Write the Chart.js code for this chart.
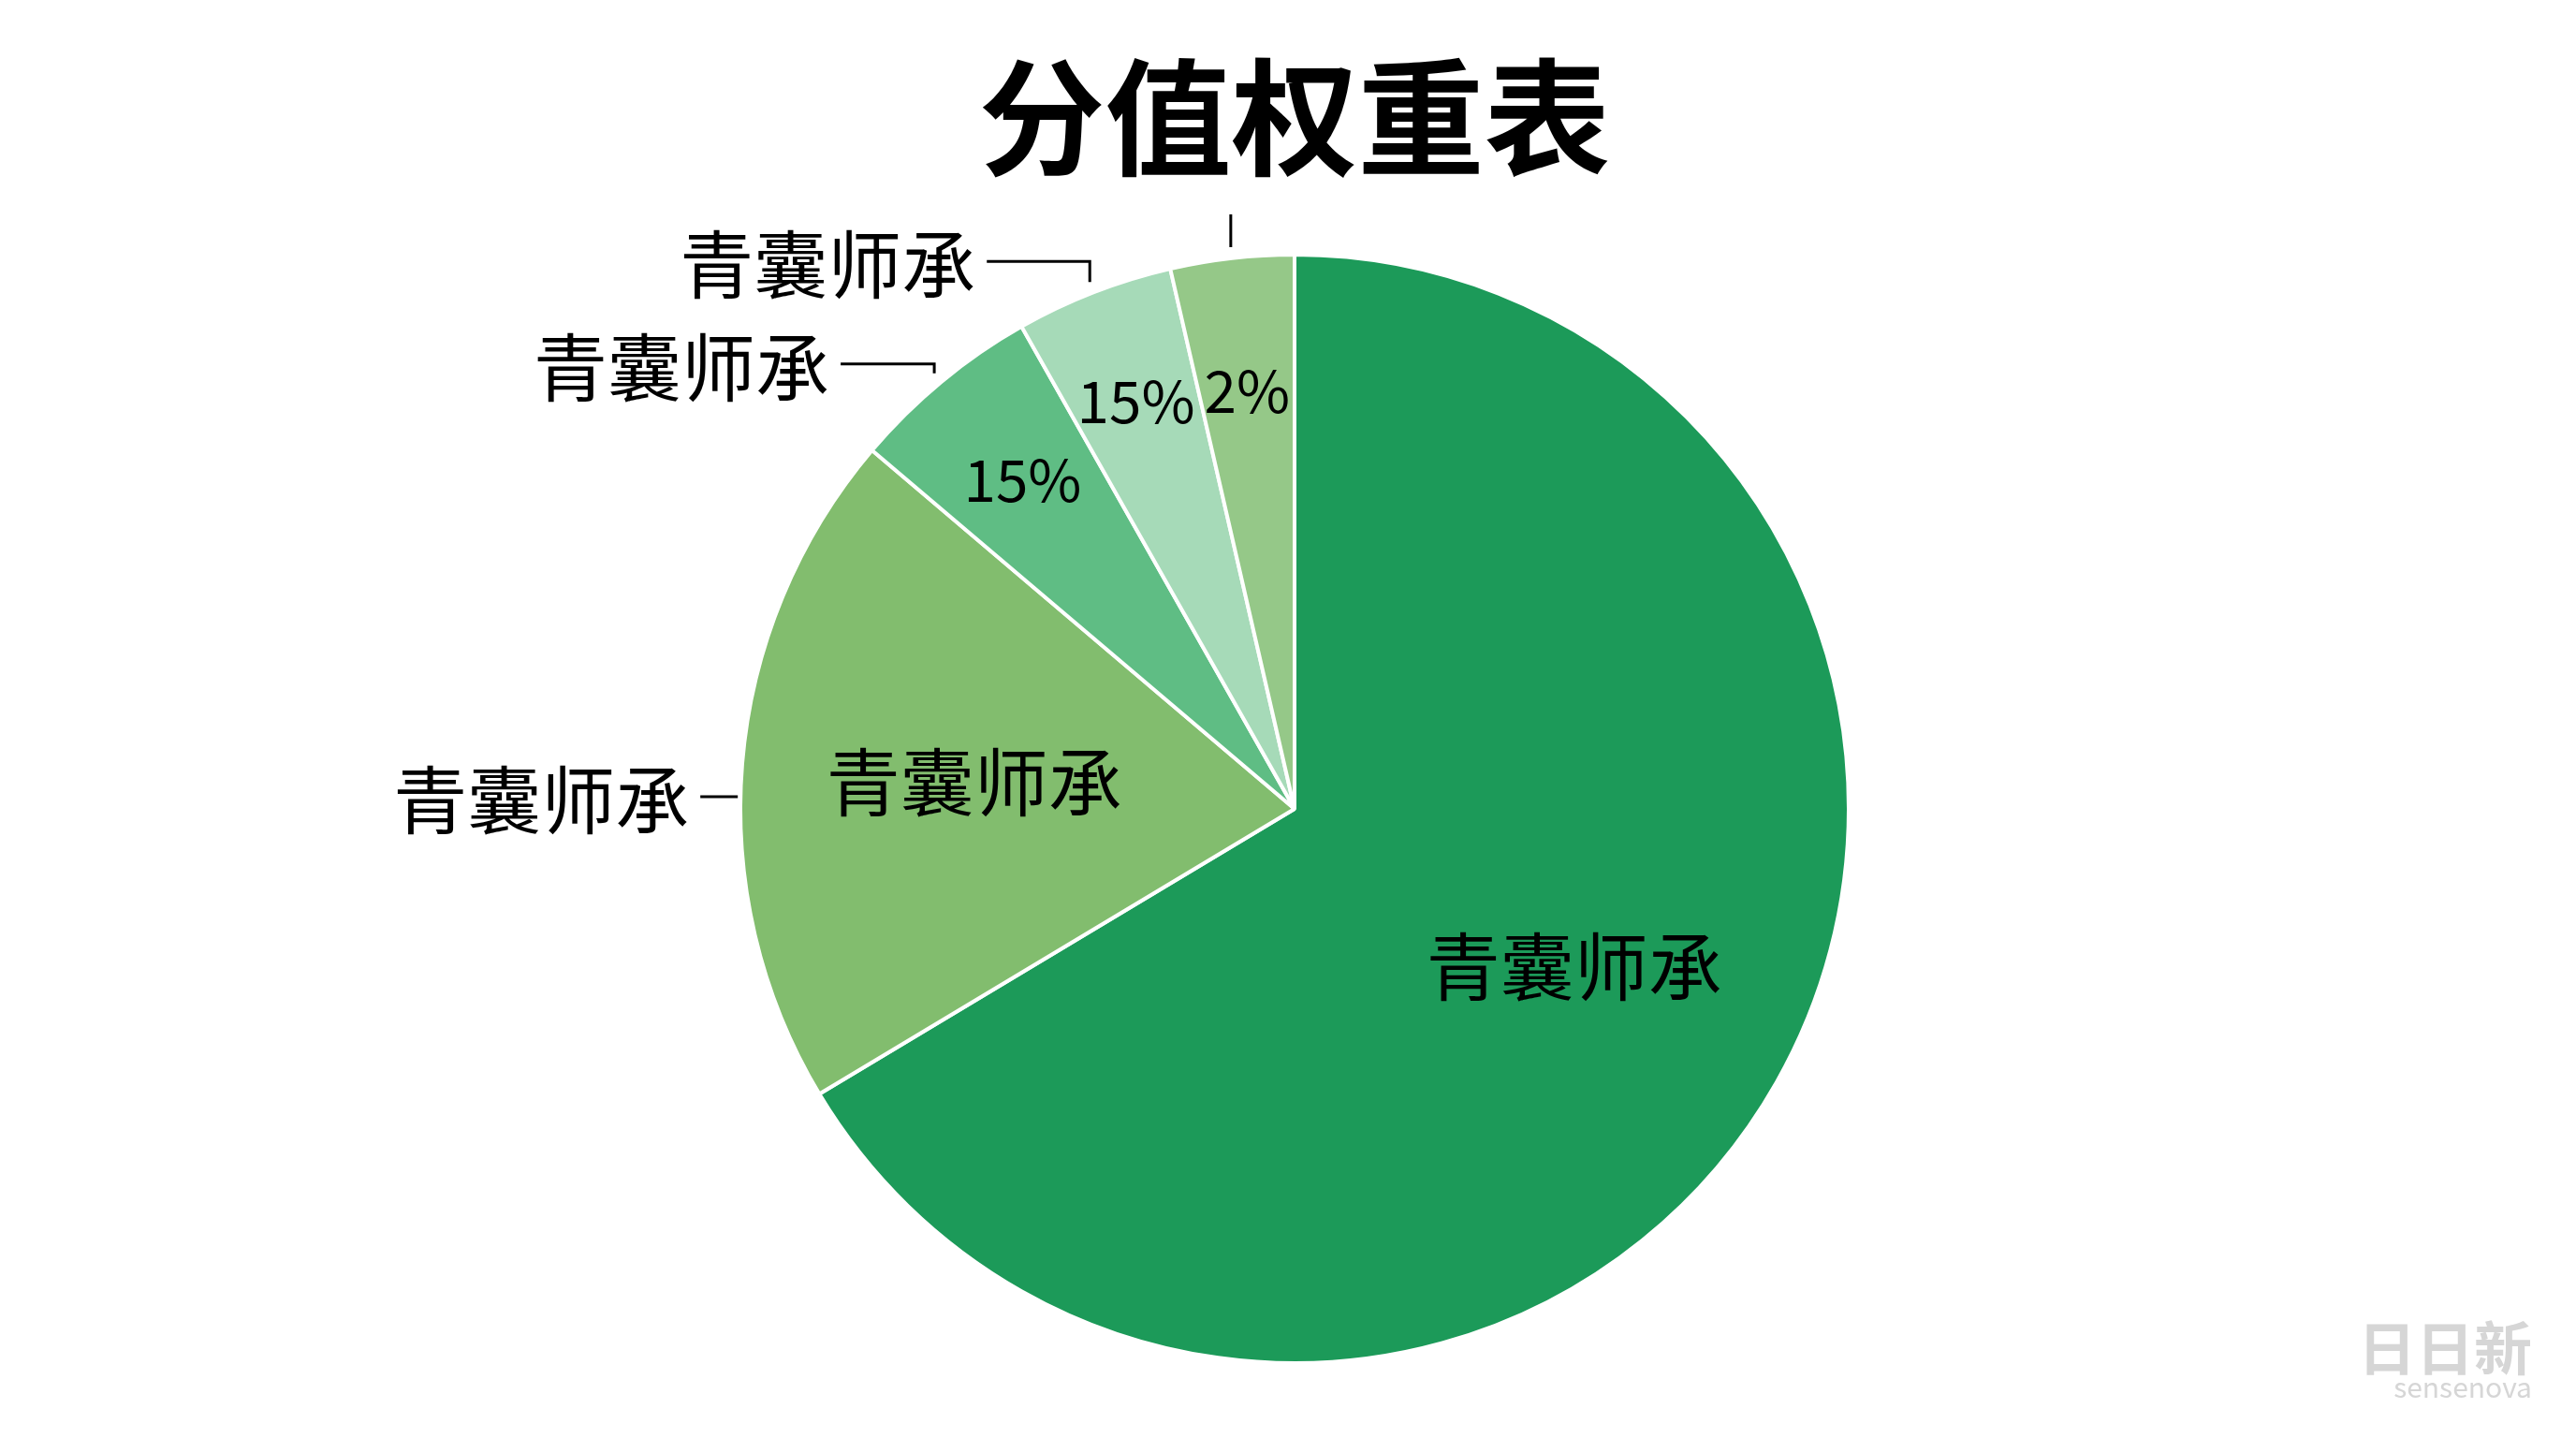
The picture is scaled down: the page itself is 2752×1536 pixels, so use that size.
<!DOCTYPE html>
<html>
<head>
<meta charset="utf-8">
<script src="https://cdn.jsdelivr.net/npm/chart.js@4/dist/chart.umd.min.js"></script>
<style>
  html, body { margin: 0; padding: 0; background: #fff; }
  #wrap { width: 2752px; height: 1536px; }
</style>
</head>
<body>
<div id="wrap"><canvas id="grafico" width="2752" height="1536"></canvas></div>
<script>
// Datos del gráfico
const categorias = ['青囊师承', '青囊师承', '青囊师承', '青囊师承', '青囊师承'];
const valores = [66.4, 19.8, 5.6, 4.6, 3.6];
const etiquetasPct = ['', '', '15%', '15%', '2%'];
const colores = ['#1c9a59', '#82bd6e', '#5fbd84', '#a6dab8', '#95c888'];
const titulo = '分值权重表';

const FUENTE = '"Noto Sans CJK SC", "Noto Sans", sans-serif';

// Plugin para el título, etiquetas internas y externas
const etiquetasPlugin = {
    id: 'etiquetas',
    afterDraw(chart) {
        const ctx = chart.ctx;
        const arcos = chart.getDatasetMeta(0).data;
        ctx.save();
        ctx.fillStyle = '#000';
        ctx.textAlign = 'center';
        ctx.textBaseline = 'middle';
        ctx.font = 'bold 135px ' + FUENTE;
        ctx.fillText(titulo, 1383, 126);

        function punto(arco, f, ang) {
            const a = ang !== undefined ? ang : (arco.startAngle + arco.endAngle) / 2;
            return { x: arco.x + Math.cos(a) * arco.outerRadius * f, y: arco.y + Math.sin(a) * arco.outerRadius * f };
        }

        // Nombres dentro de los dos sectores grandes
        ctx.font = '79px ' + FUENTE;
        [0, 1].forEach(i => {
            const p = punto(arcos[i], 0.58);
            ctx.fillText(categorias[i], p.x, p.y);
        });
        // Porcentajes dentro de los sectores pequeños
        ctx.font = '62px ' + FUENTE;
        [[2, 0.77], [3, 0.79], [4, 0.76]].forEach(([i, f]) => {
            const p = punto(arcos[i], f);
            ctx.fillText(etiquetasPct[i], p.x, p.y);
        });

        // Etiquetas externas con líneas guía
        ctx.strokeStyle = '#000';
        ctx.lineWidth = 3;
        ctx.font = '79px ' + FUENTE;
        ctx.textAlign = 'right';
        const externos = [
            { i: 1, dx: -40, dy: 0 },
            { i: 2, dx: -100, dy: -10 },
            { i: 3, dx: -110, dy: -22 }
        ];
        externos.forEach(e => {
            const arco = arcos[e.i];
            const p = e.i === 1 ? punto(arco, 1.005, (arco.startAngle + arco.endAngle) / 2 - 0.06) : punto(arco, 1.02);
            ctx.beginPath();
            ctx.moveTo(p.x, p.y);
            ctx.lineTo(p.x, p.y + e.dy);
            ctx.lineTo(p.x + e.dx, p.y + e.dy);
            ctx.stroke();
            ctx.fillText(categorias[e.i], p.x + e.dx - 12, p.y + e.dy + 4);
        });
        // Marca superior del último sector
        const pUlt = punto(arcos[4], 1.02);
        ctx.beginPath();
        ctx.moveTo(pUlt.x, pUlt.y);
        ctx.lineTo(pUlt.x, pUlt.y - 35);
        ctx.stroke();

        // Marca de agua
        ctx.textAlign = 'right';
        ctx.fillStyle = '#d6d6d6';
        ctx.font = 'bold 62px ' + FUENTE;
        ctx.fillText('日日新', 2705, 1440);
        ctx.font = '30px ' + FUENTE;
        ctx.fillText('sensenova', 2705, 1482);
        ctx.restore();
    }
};

function crearGrafico() {
    const ctx = document.getElementById('grafico').getContext('2d');
    new Chart(ctx, {
        type: 'pie',
        data: {
            labels: categorias,
            datasets: [{
                data: valores,
                backgroundColor: colores,
                borderColor: '#ffffff',
                borderWidth: 4
            }]
        },
        options: {
            responsive: false,
            animation: false,
            layout: { padding: { top: 270, bottom: 78, left: 14, right: 0 } },
            plugins: {
                legend: { display: false },
                tooltip: { enabled: false }
            }
        },
        plugins: [etiquetasPlugin]
    });
}

document.addEventListener('DOMContentLoaded', function () {
    crearGrafico();
});
</script>
</body>
</html>
